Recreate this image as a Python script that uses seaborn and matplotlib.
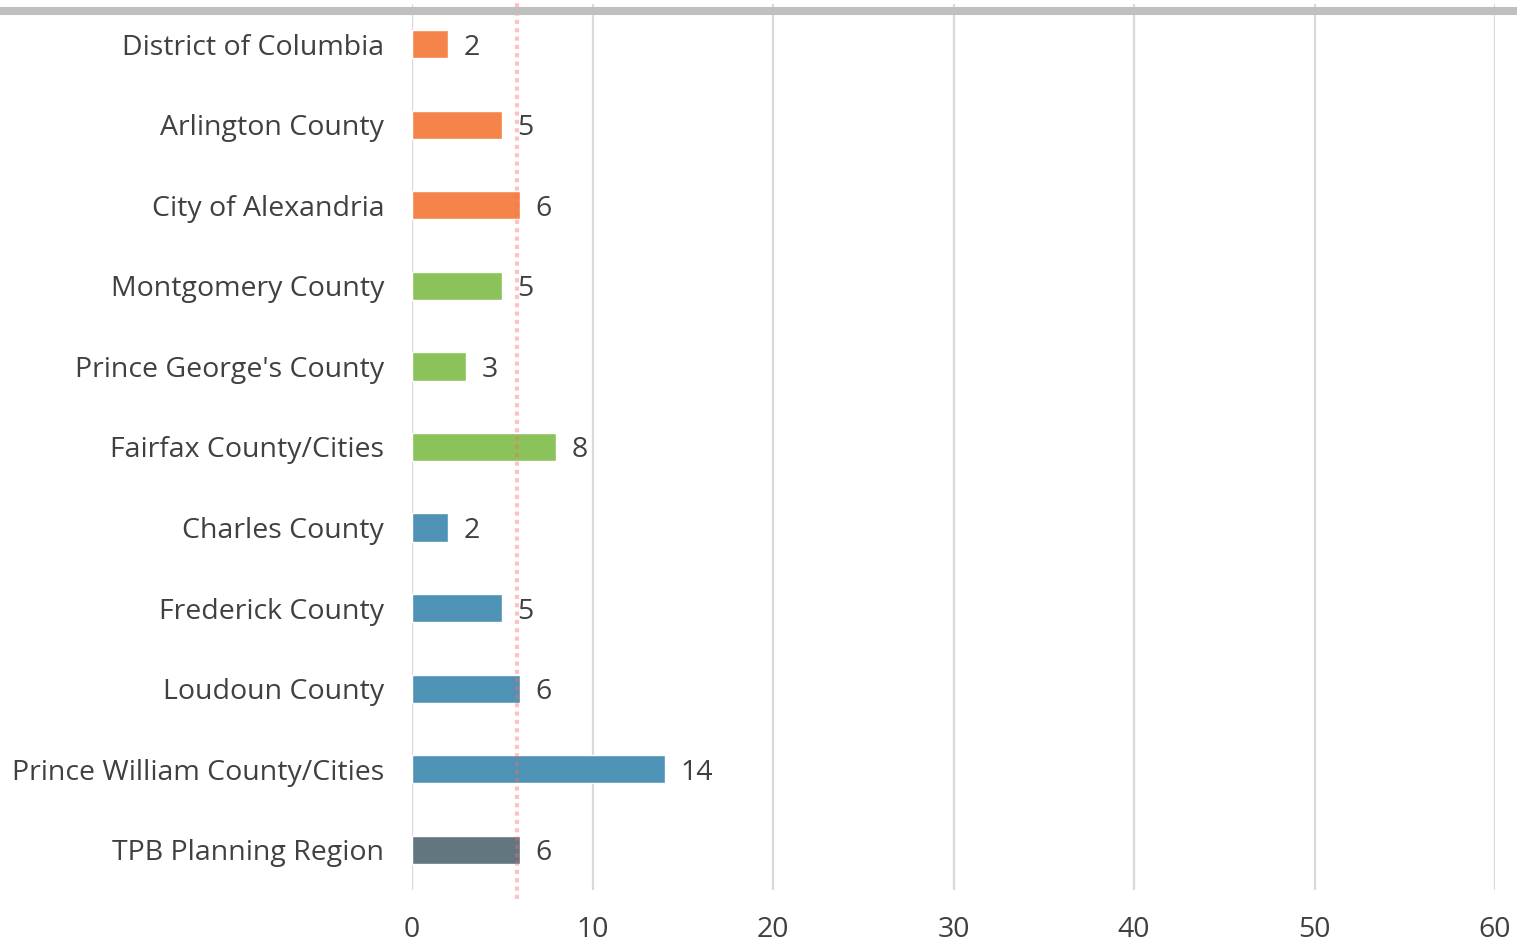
import matplotlib
matplotlib.use('Agg')
import matplotlib.pyplot as plt
from matplotlib.lines import Line2D
import pandas as pd
import seaborn as sns

# chart data
regions = ['District of Columbia', 'Arlington County', 'City of Alexandria',
           'Montgomery County', "Prince George's County", 'Fairfax County/Cities',
           'Charles County', 'Frederick County', 'Loudoun County',
           'Prince William County/Cities', 'TPB Planning Region']
values = [2, 5, 6, 5, 3, 8, 2, 5, 6, 14, 6]
groups = ['dc', 'dc', 'dc', 'md', 'md', 'md', 'outer', 'outer', 'outer', 'outer', 'total']
group_colors = {'dc': '#F4844A', 'md': '#8BC35A', 'outer': '#4E93B6', 'total': '#627681'}
ref_value = 5.8
x_ticks = [0, 10, 20, 30, 40, 50, 60]

df = pd.DataFrame({'region': regions, 'value': values, 'group': groups})

sns.set_style('white')
plt.rcParams['font.family'] = ['Open Sans', 'DejaVu Sans']
text_color = '#404040'
fs = 20.5

fig = plt.figure(figsize=(15.17, 9.47), dpi=100)
ax = fig.add_axes([0.2716, 0.0602, 0.9855 - 0.2716, 0.9958 - 0.0602])

sns.barplot(data=df, x='value', y='region', hue='group', palette=group_colors,
            orient='h', width=0.35, dodge=False, saturation=1, legend=False,
            ax=ax, zorder=2)

ax.set_xlim(0, 60)
ax.set_ylim(len(regions) - 0.5, -0.5)
ax.set_xticks(x_ticks)
ax.grid(axis='x', color='#D9D9D9', linewidth=1.6, zorder=0)
ax.set_axisbelow(True)
for s in ax.spines.values():
    s.set_visible(False)
ax.set_xlabel('')
ax.set_ylabel('')
ax.tick_params(axis='y', length=0, pad=20, labelsize=fs, labelcolor=text_color)
ax.tick_params(axis='x', length=0, pad=19, labelsize=fs, labelcolor=text_color)

for i, v in enumerate(values):
    ax.annotate(str(v), (v, i), xytext=(11, 0), textcoords='offset points',
                va='center_baseline', ha='left', fontsize=fs, color=text_color)

ax.axvline(ref_value, ymin=-0.01, ymax=1.01, color='#FF6666', alpha=0.4,
           linewidth=3, linestyle=(0, (1, 1)), zorder=3, clip_on=False)

# heavy grey rule across the top
fig.add_artist(Line2D([0, 1], [1 - 11 / 947, 1 - 11 / 947], transform=fig.transFigure,
                      color='#BFBFBF', linewidth=5.8))

fig.savefig('out.png', dpi=100)
